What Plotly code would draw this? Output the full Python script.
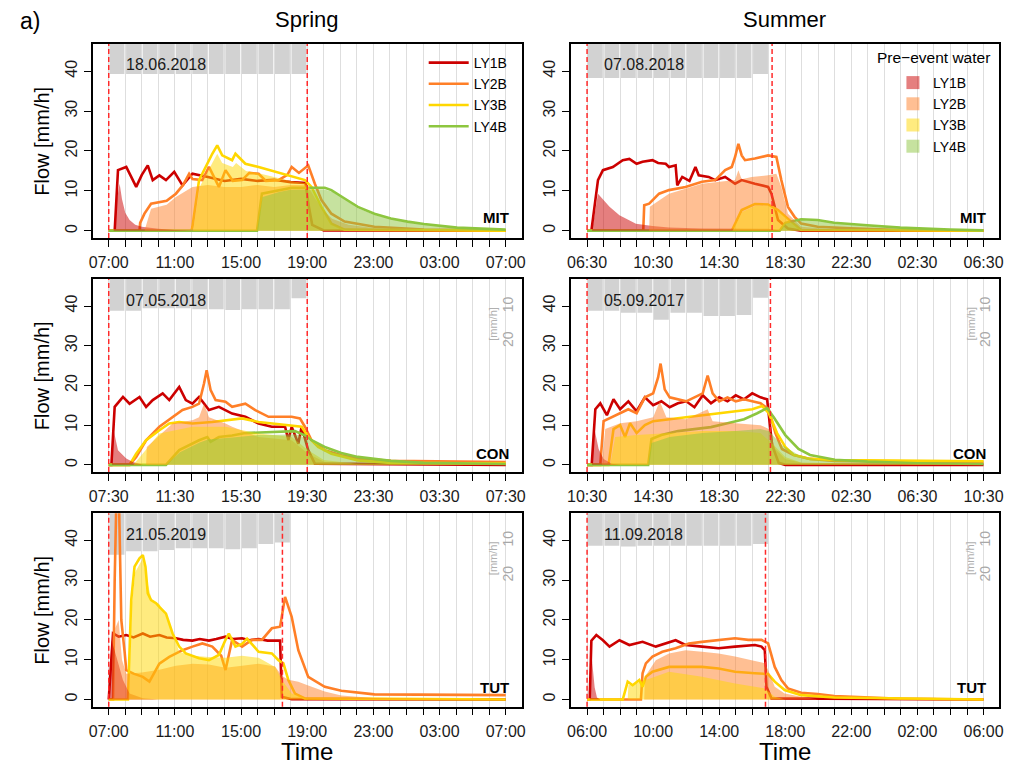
import plotly.graph_objects as go

# ------------------------------------------------------------------
# DATA  (time in hours since event start, flow in mm/h)
# ------------------------------------------------------------------
LAYERS = ["LY1B", "LY2B", "LY3B", "LY4B"]

# x tick labels (every 4 h)
TICKS_MIT_SP = ["07:00", "11:00", "15:00", "19:00", "23:00", "03:00", "07:00"]
TICKS_MIT_SU = ["06:30", "10:30", "14:30", "18:30", "22:30", "02:30", "06:30"]
TICKS_CON_SP = ["07:30", "11:30", "15:30", "19:30", "23:30", "03:30", "07:30"]
TICKS_CON_SU = ["10:30", "14:30", "18:30", "22:30", "02:30", "06:30", "10:30"]
TICKS_TUT_SP = ["07:00", "11:00", "15:00", "19:00", "23:00", "03:00", "07:00"]
TICKS_TUT_SU = ["06:00", "10:00", "14:00", "18:00", "22:00", "02:00", "06:00"]

# hourly sprinkling intensity [mm/h]
MIT_SP_RAIN = [10.7, 10.7, 10.7, 10.7, 10.7, 10.7, 10.7, 10.7, 10.7, 10.7, 10.7, 10.7]
MIT_SU_RAIN = [11.8, 11.8, 11.8, 11.8, 11.8, 11.8, 11.8, 11.8, 11.8, 11.8, 10.7]
CON_SP_RAIN = [11.2, 11.2, 10.5, 10.5, 10.5, 10.8, 10.8, 11.0, 10.8, 10.8, 10.8, 7.6]
CON_SU_RAIN = [11.2, 11.2, 11.8, 11.8, 13.8, 11.8, 11.8, 12.7, 12.7, 12.4, 7.5]
TUT_SP_RAIN = [14.0, 13.0, 13.0, 12.6, 12.1, 12.1, 12.1, 12.4, 12.1, 10.9, 10.5]
TUT_SU_RAIN = [11.4, 11.4, 11.6, 11.4, 11.4, 11.4, 11.4, 11.4, 11.4, 11.4, 10.9]

# event end [h after start]
MIT_SP_END = 12.0
MIT_SU_END = 11.2
CON_SP_END = 12.0
CON_SU_END = 11.1
TUT_SP_END = 10.5
TUT_SU_END = 10.8

# ---------------- MIT spring (18.06.2018) ----------------
MIT_SP_TOT_LY1B = [(0, 0), (0.36, 0), (0.56, 15.2), (1.06, 16.0), (1.36, 13.5), (1.66, 11.0), (2.0, 14.0),
                   (2.36, 16.4), (2.66, 12.7), (3.06, 13.9), (3.46, 12.7), (3.96, 14.8), (4.46, 11.4),
                   (5.06, 14.3), (6.0, 13.5), (7.0, 12.5), (8.0, 13.0), (9.0, 12.5), (10.0, 12.8),
                   (11.0, 12.2), (11.9, 12.0), (12.1, 6.0), (12.3, 1.5), (13.0, 0.1), (24, 0)]
MIT_SP_TOT_LY2B = [(0, 0), (1.86, 0), (1.9, 2.0), (2.16, 4.3), (2.56, 6.8), (3.5, 7.5), (4.06, 9.3), (4.5, 11.5),
                   (4.86, 14.3), (5.06, 13.0), (5.66, 12.7), (6.06, 16.0), (6.66, 11.0), (7.06, 15.2),
                   (7.5, 12.5), (8.06, 12.7), (8.5, 14.5), (9.06, 14.3), (9.5, 12.5), (10.26, 12.7),
                   (10.8, 14.0), (11.06, 16.0), (11.5, 14.5), (12.06, 16.4), (12.46, 11.8), (12.86, 7.7),
                   (13.46, 4.3), (14.26, 2.3), (16.06, 1.0), (19.06, 0.3), (24, 0.1)]
MIT_SP_TOT_LY3B = [(0, 0), (5.0, 0), (5.06, 1.0), (5.46, 12.7), (6.26, 19.3), (6.56, 21.4), (6.86, 18.9),
                   (7.46, 17.7), (7.66, 19.3), (8.26, 16.8), (9.06, 16.0), (10.06, 14.8), (11.06, 13.5),
                   (11.86, 12.7), (12.26, 11.0), (12.86, 6.0), (13.46, 1.8), (14.26, 0.3), (24, 0)]
MIT_SP_TOT_LY4B = [(0, 0), (8.96, 0), (9.26, 9.3), (10.26, 10.2), (11.06, 10.8), (13.06, 10.8), (13.46, 10.2),
                   (14.26, 8.1), (15.06, 6.0), (16.06, 4.3), (17.06, 3.1), (18.06, 2.3), (19.06, 1.7),
                   (21.06, 0.8), (23.86, 0.3), (24, 0.3)]
MIT_SP_PRE_LY1B = [(0.3, 0), (0.5, 8.0), (0.66, 11.8), (0.8, 8.0), (1.0, 4.5), (1.26, 2.7), (1.6, 1.5),
                   (2.0, 1.0), (3.0, 0.5), (4.0, 0.2), (5.0, 0)]
MIT_SP_PRE_LY2B = [(2.16, 0), (2.56, 5.5), (3.5, 6.5), (4.06, 8.5), (5.06, 11.0), (6.0, 11.5), (7.0, 11.0),
                   (8.0, 11.0), (9.0, 11.5), (10.0, 11.0), (11.0, 11.5), (12.0, 11.5), (12.5, 8.0),
                   (13.0, 5.0), (13.5, 3.0), (14.5, 1.5), (16.0, 0.7), (19.0, 0.2), (24, 0)]
MIT_SP_PRE_LY3B = [(5.1, 0), (5.5, 11.0), (6.26, 17.0), (6.56, 19.3), (6.86, 17.0), (7.5, 16.0), (7.7, 17.0),
                   (8.3, 15.0), (9.0, 14.5), (10.0, 13.5), (11.0, 12.5), (11.9, 12.0), (12.3, 10.0),
                   (12.9, 5.5), (13.5, 1.5), (14.3, 0.2), (24, 0)]
MIT_SP_PRE_LY4B = [(8.96, 0), (9.3, 8.5), (10.3, 9.7), (11.0, 10.3), (13.0, 10.4), (13.5, 9.8), (14.3, 7.8),
                   (15.0, 5.8), (16.0, 4.1), (17.0, 3.0), (18.0, 2.1), (19.0, 1.6), (21.0, 0.7), (24, 0.2)]

# ---------------- MIT summer (07.08.2018) ----------------
MIT_SU_TOT_LY1B = [(0, 0), (0.26, 0), (0.66, 12.7), (0.96, 15.2), (1.56, 16.0), (2.16, 17.7), (2.56, 18.0),
                   (3.0, 16.8), (3.36, 17.3), (3.96, 17.7), (4.3, 17.0), (4.76, 16.8), (4.96, 16.0),
                   (5.36, 16.4), (5.46, 11.4), (5.76, 13.5), (6.2, 12.5), (6.56, 16.0), (6.76, 13.9),
                   (7.36, 13.5), (7.76, 12.7), (8.36, 13.5), (8.96, 11.8), (9.36, 12.7), (10.16, 11.8),
                   (10.96, 11.0), (11.16, 9.3), (11.56, 2.7), (12.16, 0.6), (12.96, 0), (24, 0)]
MIT_SU_TOT_LY2B = [(0, 0), (3.4, 0), (3.46, 6.4), (3.76, 6.8), (4.36, 9.3), (4.96, 10.2), (5.96, 11.0),
                   (6.96, 12.3), (7.76, 12.7), (8.36, 15.2), (8.76, 16.0), (8.96, 18.5), (9.16, 21.8),
                   (9.36, 18.9), (9.56, 17.7), (10.16, 18.1), (10.96, 18.9), (11.46, 18.5), (11.76, 12.7),
                   (12.16, 6.0), (12.56, 3.5), (12.96, 1.8), (13.96, 1.0), (15.96, 0.6), (18.96, 0.2), (24, 0.1)]
MIT_SU_TOT_LY3B = [(0, 0), (8.76, 0), (9.36, 5.2), (10.16, 6.7), (10.96, 6.6), (11.56, 5.2), (12.36, 2.3),
                   (12.96, 0.2), (24, 0)]
MIT_SU_TOT_LY4B = [(0, 0), (11.66, 0), (12.0, 2.0), (12.96, 2.9), (13.96, 2.7), (14.96, 2.0), (16.96, 1.4),
                   (18.96, 0.8), (21.96, 0.3), (24, 0.1)]
MIT_SU_PRE_LY1B = [(0.3, 0), (0.66, 9.3), (1.36, 6.0), (1.96, 3.9), (2.96, 1.8), (3.96, 1.2), (4.96, 0.8),
                   (6.96, 0.6), (10.96, 0.5), (11.76, 0)]
MIT_SU_PRE_LY2B = [(3.76, 0), (3.8, 6.0), (4.96, 9.3), (6.96, 11.8), (8.96, 12.7), (9.16, 15.2), (9.36, 12.9),
                   (9.96, 13.5), (10.96, 13.9), (11.46, 14.3), (11.76, 11.0), (12.16, 4.3), (12.96, 1.0),
                   (14.96, 0.3), (24, 0)]
MIT_SU_PRE_LY3B = [(8.8, 0), (9.4, 4.8), (10.2, 6.3), (11.0, 6.3), (11.6, 4.9), (12.4, 2.0), (13.0, 0)]
MIT_SU_PRE_LY4B = [(11.7, 0), (12.0, 1.8), (13.0, 2.7), (14.0, 2.5), (15.0, 1.9), (17.0, 1.3), (19.0, 0.7),
                   (22.0, 0.3), (24, 0.1)]

# ---------------- CON spring (07.05.2018) ----------------
CON_SP_TOT_LY1B = [(0, 0), (0.16, 0), (0.36, 14.6), (0.86, 17.1), (1.26, 15.4), (1.86, 17.1), (2.26, 14.6),
                   (2.66, 16.3), (3.26, 18.0), (3.66, 16.3), (4.26, 19.6), (4.66, 16.3), (5.06, 15.4),
                   (5.46, 17.1), (6.06, 13.8), (6.66, 14.6), (7.46, 12.9), (8.26, 12.1), (9.06, 10.4),
                   (9.86, 9.6), (10.66, 9.6), (10.86, 6.2), (11.06, 9.6), (11.46, 5.3), (11.66, 9.6),
                   (12.06, 3.7), (12.46, 0.3), (24, 0)]
CON_SP_TOT_LY2B = [(0, 0), (1.26, 0), (1.66, 2.0), (2.26, 6.2), (3.06, 9.6), (3.86, 12.1), (4.46, 13.8),
                   (5.06, 14.6), (5.46, 15.4), (5.76, 20.5), (5.92, 23.8), (6.16, 18.8), (6.46, 16.3),
                   (7.06, 15.9), (7.46, 14.6), (8.26, 15.4), (8.86, 13.8), (9.66, 12.1), (11.06, 12.1),
                   (11.56, 11.7), (11.86, 9.6), (12.26, 6.2), (13.06, 3.7), (14.06, 2.4), (15.06, 1.6),
                   (17.06, 1.0), (24, 0.7)]
CON_SP_TOT_LY3B = [(0, 0), (1.26, 0), (1.66, 2.8), (2.26, 6.2), (3.06, 8.7), (3.66, 10.4), (4.26, 10.8),
                   (5.06, 10.4), (6.26, 10.8), (7.06, 11.2), (8.06, 11.7), (9.06, 10.8), (10.06, 10.4),
                   (11.06, 10.0), (11.66, 9.6), (12.06, 7.0), (12.66, 4.5), (13.46, 2.8), (15.06, 1.1),
                   (17.06, 0.5), (24, 0.3)]
CON_SP_TOT_LY4B = [(0, 0), (3.46, 0), (4.26, 3.7), (5.46, 6.2), (5.96, 7.0), (6.16, 5.8), (6.66, 7.0),
                   (7.46, 7.4), (8.26, 8.0), (9.06, 8.1), (10.26, 8.3), (11.26, 8.5), (11.86, 7.4),
                   (12.26, 6.2), (13.06, 4.5), (14.06, 3.0), (15.06, 2.0), (17.06, 1.0), (19.06, 0.5), (24, 0.2)]
CON_SP_PRE_LY1B = [(0.2, 0), (0.26, 9.5), (0.56, 3.7), (1.06, 1.6), (1.46, 0.7), (2.06, 0)]
CON_SP_PRE_LY2B = [(2.26, 0), (2.3, 4.5), (3.86, 10.4), (5.06, 11.2), (5.46, 12.0), (5.76, 15.4), (6.06, 12.0),
                   (7.06, 10.4), (7.46, 9.6), (9.06, 7.0), (11.06, 6.2), (12.06, 2.8), (13.06, 0.7),
                   (15.0, 0.2), (24, 0)]
CON_SP_PRE_LY3B = [(1.5, 0), (3.06, 7.9), (5.06, 9.6), (7.06, 9.6), (9.06, 7.9), (11.06, 7.0), (12.06, 3.7),
                   (13.0, 1.2), (15.0, 0.3), (24, 0)]
CON_SP_PRE_LY4B = [(3.5, 0), (4.3, 3.2), (5.5, 5.6), (6.0, 6.4), (7.5, 6.9), (9.0, 7.5), (10.3, 7.6),
                   (11.3, 7.7), (11.9, 6.8), (12.3, 5.7), (13.0, 4.1), (14.0, 2.7), (15.0, 1.8), (17.0, 0.9),
                   (19.0, 0.4), (24, 0.1)]

# ---------------- CON summer (05.09.2017) ----------------
CON_SU_TOT_LY1B = [(0, 0), (0.28, 0), (0.5, 14.0), (0.8, 15.5), (1.2, 12.5), (1.6, 16.5), (2.0, 14.0),
                   (2.5, 16.0), (3.0, 13.5), (3.5, 17.0), (4.0, 15.0), (4.5, 16.0), (5.0, 14.5), (5.5, 15.5),
                   (6.0, 16.0), (6.5, 14.5), (7.0, 17.5), (7.5, 15.5), (8.0, 17.0), (8.5, 16.0), (9.0, 17.5),
                   (9.5, 16.5), (10.0, 18.0), (10.5, 17.0), (10.9, 16.5), (11.2, 5.0), (11.6, 0.5),
                   (12.0, 0), (24, 0)]
CON_SU_TOT_LY2B = [(0, 0), (0.8, 0), (1.0, 11.0), (1.5, 12.0), (2.0, 13.0), (2.5, 14.0), (3.0, 13.0),
                   (3.5, 17.0), (4.0, 18.0), (4.3, 22.0), (4.45, 25.5), (4.7, 19.0), (5.0, 17.0), (5.5, 16.5),
                   (6.0, 16.0), (6.5, 17.0), (7.0, 18.0), (7.3, 22.5), (7.6, 18.0), (8.0, 16.0), (8.5, 17.0),
                   (9.0, 16.0), (9.5, 16.5), (10.0, 16.0), (10.5, 15.5), (11.0, 14.0), (11.4, 8.0),
                   (11.8, 4.0), (12.5, 2.5), (13.5, 1.5), (15.0, 1.0), (24, 0.6)]
CON_SU_TOT_LY3B = [(0, 0), (1.3, 0), (1.6, 9.0), (2.0, 10.0), (2.3, 7.0), (2.6, 10.5), (3.0, 8.0), (3.5, 10.0),
                   (4.0, 11.0), (5.0, 11.5), (6.0, 12.0), (7.0, 12.5), (8.0, 13.0), (9.0, 13.5), (10.0, 14.0),
                   (10.6, 14.8), (11.0, 13.0), (11.5, 8.0), (12.0, 4.5), (12.5, 2.5), (13.5, 1.5),
                   (15.0, 1.2), (24, 0.9)]
CON_SU_TOT_LY4B = [(0, 0), (3.7, 0), (3.9, 6.5), (4.5, 7.5), (5.5, 8.5), (6.5, 9.0), (7.5, 9.5), (8.5, 10.5),
                   (9.5, 11.5), (10.3, 13.0), (10.9, 14.3), (11.3, 12.0), (12.0, 7.5), (12.8, 4.0),
                   (13.5, 2.5), (15.0, 1.3), (17.0, 0.8), (20.0, 0.4), (24, 0.2)]
CON_SU_PRE_LY1B = [(0.3, 0), (0.45, 9.0), (0.7, 4.0), (1.0, 1.5), (1.5, 0.3), (2.0, 0)]
CON_SU_PRE_LY2B = [(0.9, 0), (1.1, 9.0), (2.0, 10.5), (3.0, 11.0), (4.0, 12.0), (4.4, 16.0), (4.8, 12.0),
                   (6.0, 11.5), (7.3, 14.0), (7.6, 11.0), (9.0, 10.5), (10.5, 10.0), (11.0, 9.0), (11.4, 4.0),
                   (12.0, 1.5), (13.0, 0.5), (24, 0)]
CON_SU_PRE_LY3B = [(1.4, 0), (1.7, 7.0), (3.0, 7.5), (5.0, 8.0), (7.0, 8.5), (9.0, 8.5), (10.5, 8.0),
                   (11.3, 5.0), (12.0, 2.0), (13.0, 0.5), (24, 0)]
CON_SU_PRE_LY4B = [(3.7, 0), (3.9, 5.5), (5.0, 7.0), (7.0, 8.0), (9.0, 8.5), (10.5, 9.0), (11.0, 8.5),
                   (11.8, 5.0), (12.8, 2.5), (14.0, 1.2), (17.0, 0.5), (24, 0.1)]

# ---------------- TUT spring (21.05.2019) ----------------
TUT_SP_TOT_LY1B = [(0, 0), (0.26, 16.6), (0.6, 15.8), (1.06, 16.2), (1.5, 15.6), (2.06, 16.6), (2.5, 15.8),
                   (3.06, 16.2), (3.5, 15.6), (4.06, 15.4), (4.5, 15.0), (5.06, 14.8), (5.5, 15.2),
                   (6.06, 14.8), (6.5, 15.2), (7.06, 15.8), (7.5, 15.2), (8.06, 15.4), (8.5, 14.9),
                   (9.06, 15.2), (9.6, 14.8), (10.36, 14.8), (10.46, 0.7), (11.06, 0.1), (24, 0)]
TUT_SP_TOT_LY2B = [(0, 0), (0.26, 0), (0.36, 30.0), (0.46, 50.0), (0.62, 50.0), (0.76, 20.0), (0.96, 12.0),
                   (1.06, 7.4), (1.5, 6.5), (2.06, 5.7), (2.46, 4.5), (3.06, 9.0), (3.66, 10.7), (4.46, 12.4),
                   (5.06, 13.3), (5.66, 14.1), (6.26, 13.3), (6.8, 11.0), (7.06, 7.4), (7.46, 15.0),
                   (8.06, 13.3), (8.66, 15.0), (9.26, 15.0), (9.86, 17.9), (10.36, 18.3), (10.66, 25.8),
                   (11.06, 20.8), (11.46, 12.4), (12.06, 5.7), (13.06, 3.2), (14.06, 2.2), (16.06, 1.3),
                   (24, 1.1)]
TUT_SP_TOT_LY3B = [(0, 0), (1.16, 0), (1.36, 25.0), (1.56, 33.4), (1.86, 35.5), (2.06, 36.3), (2.22, 33.4),
                   (2.36, 26.7), (2.56, 25.0), (2.86, 24.2), (3.06, 23.3), (3.46, 21.6), (3.86, 16.6),
                   (4.26, 13.3), (4.66, 11.6), (5.46, 10.4), (6.06, 9.9), (6.66, 11.2), (7.06, 15.0),
                   (7.26, 16.6), (7.66, 13.3), (8.06, 14.0), (8.36, 15.3), (8.66, 14.0), (9.06, 12.0),
                   (9.86, 11.6), (10.26, 9.9), (10.56, 9.1), (10.86, 4.9), (11.26, 1.5), (11.86, 0.3), (24, 0)]
TUT_SP_PRE_LY1B = [(0, 0), (0.16, 15.0), (0.46, 10.8), (0.86, 4.9), (1.26, 1.5), (2.06, 0.3), (3.0, 0)]
TUT_SP_PRE_LY2B = [(0.26, 0), (0.4, 18.0), (0.6, 20.0), (0.8, 10.0), (1.06, 6.5), (2.0, 6.8), (3.06, 7.5),
                   (4.06, 8.5), (5.06, 9.0), (6.06, 8.8), (7.06, 8.0), (8.06, 8.5), (9.06, 9.0), (10.06, 8.3),
                   (10.46, 6.0), (10.86, 5.0), (11.46, 4.5), (12.06, 3.5), (13.06, 2.0), (14.06, 1.0),
                   (16.0, 0.4), (24, 0)]
TUT_SP_PRE_LY3B = [(1.2, 0), (1.4, 24.0), (1.6, 32.0), (2.06, 35.5), (2.3, 30.0), (2.6, 25.0), (3.06, 24.0),
                   (3.46, 21.0), (3.86, 17.0), (4.26, 12.0), (5.06, 11.0), (6.06, 10.7), (7.06, 10.5),
                   (8.06, 11.0), (9.06, 10.5), (10.06, 8.2), (10.46, 5.0), (11.06, 1.5), (12.06, 0)]

# ---------------- TUT summer (11.09.2018) ----------------
TUT_SU_TOT_LY1B = [(0, 0), (0.16, 0), (0.26, 14.8), (0.56, 16.2), (0.96, 14.9), (1.36, 13.3), (1.96, 14.9),
                   (2.56, 13.7), (3.36, 14.5), (4.16, 13.3), (5.36, 14.9), (5.96, 13.7), (6.96, 13.3),
                   (7.96, 12.9), (8.96, 13.3), (10.16, 13.7), (10.56, 13.3), (10.76, 12.4), (10.86, 3.2),
                   (11.16, 0.3), (24, 0)]
TUT_SU_TOT_LY2B = [(0, 0), (3.26, 0), (3.36, 6.6), (3.56, 9.1), (3.96, 10.8), (4.56, 12.0), (5.36, 12.9),
                   (6.16, 14.1), (6.96, 14.5), (7.96, 15.0), (8.96, 15.4), (9.76, 15.0), (10.56, 15.0),
                   (10.96, 14.1), (11.36, 8.2), (11.76, 4.9), (12.16, 2.8), (12.96, 1.7), (13.96, 1.4),
                   (14.96, 0.9), (16.96, 0.5), (18.96, 0.2), (24, 0)]
TUT_SU_TOT_LY3B = [(0, 0), (2.16, 0), (2.46, 4.5), (2.76, 3.6), (3.16, 4.9), (3.36, 3.2), (3.56, 5.7),
                   (3.96, 7.0), (4.96, 8.2), (5.96, 8.2), (6.96, 8.2), (7.96, 7.8), (8.96, 7.0), (10.16, 6.6),
                   (10.96, 6.4), (11.36, 4.5), (11.96, 2.4), (12.96, 1.1), (14.96, 0.5), (24, 0)]
TUT_SU_PRE_LY1B = [(0.16, 0), (0.3, 9.9), (0.46, 3.0), (0.6, 0.5), (0.8, 0)]
TUT_SU_PRE_LY2B = [(3.46, 0), (3.5, 5.7), (4.16, 9.9), (4.96, 11.6), (5.96, 12.4), (6.96, 12.0), (7.96, 11.6),
                   (8.96, 10.8), (9.96, 9.9), (10.76, 9.1), (10.96, 7.4), (11.36, 3.2), (11.96, 1.5),
                   (12.96, 0.7), (14.0, 0)]
TUT_SU_PRE_LY3B = [(2.46, 0), (2.5, 3.6), (3.56, 4.9), (4.96, 7.0), (6.96, 5.7), (8.96, 4.0), (10.76, 2.8),
                   (11.36, 0.7), (12.0, 0)]

# ------------------------------------------------------------------
# STYLE / LAYOUT
# ------------------------------------------------------------------
LINE_COLORS = {"LY1B": "#CC0000", "LY2B": "#FF7F27", "LY3B": "#FFD700", "LY4B": "#8DC63F"}
FILL_COLORS = {"LY1B": "rgba(204,0,0,0.5)", "LY2B": "rgba(255,127,39,0.5)",
               "LY3B": "rgba(255,215,0,0.5)", "LY4B": "rgba(141,198,63,0.5)"}

# the page body has an 8px margin: the figure is sized/positioned to compensate
OFF = 8
W, H = 1013 - OFF, 770 - OFF
COL_PX = [(89.5, 521.7), (571.7, 1003.3)]      # page pixel positions of the panels
ROW_PX = [(44.0, 238.0), (279.0, 472.0), (513.3, 706.7)]
FONT = "Liberation Sans, Arial, sans-serif"


def fx(p):
    return (p - OFF) / W


def fy(p):
    return 1 - (p - OFF) / H


PANELS = [
    dict(row=0, col=0, date="18.06.2018", site="MIT", ticks=TICKS_MIT_SP, rain=MIT_SP_RAIN, end=MIT_SP_END,
         tot=[MIT_SP_TOT_LY1B, MIT_SP_TOT_LY2B, MIT_SP_TOT_LY3B, MIT_SP_TOT_LY4B],
         pre=[MIT_SP_PRE_LY1B, MIT_SP_PRE_LY2B, MIT_SP_PRE_LY3B, MIT_SP_PRE_LY4B]),
    dict(row=0, col=1, date="07.08.2018", site="MIT", ticks=TICKS_MIT_SU, rain=MIT_SU_RAIN, end=MIT_SU_END,
         tot=[MIT_SU_TOT_LY1B, MIT_SU_TOT_LY2B, MIT_SU_TOT_LY3B, MIT_SU_TOT_LY4B],
         pre=[MIT_SU_PRE_LY1B, MIT_SU_PRE_LY2B, MIT_SU_PRE_LY3B, MIT_SU_PRE_LY4B]),
    dict(row=1, col=0, date="07.05.2018", site="CON", ticks=TICKS_CON_SP, rain=CON_SP_RAIN, end=CON_SP_END,
         tot=[CON_SP_TOT_LY1B, CON_SP_TOT_LY2B, CON_SP_TOT_LY3B, CON_SP_TOT_LY4B],
         pre=[CON_SP_PRE_LY1B, CON_SP_PRE_LY2B, CON_SP_PRE_LY3B, CON_SP_PRE_LY4B]),
    dict(row=1, col=1, date="05.09.2017", site="CON", ticks=TICKS_CON_SU, rain=CON_SU_RAIN, end=CON_SU_END,
         tot=[CON_SU_TOT_LY1B, CON_SU_TOT_LY2B, CON_SU_TOT_LY3B, CON_SU_TOT_LY4B],
         pre=[CON_SU_PRE_LY1B, CON_SU_PRE_LY2B, CON_SU_PRE_LY3B, CON_SU_PRE_LY4B]),
    dict(row=2, col=0, date="21.05.2019", site="TUT", ticks=TICKS_TUT_SP, rain=TUT_SP_RAIN, end=TUT_SP_END,
         tot=[TUT_SP_TOT_LY1B, TUT_SP_TOT_LY2B, TUT_SP_TOT_LY3B, None],
         pre=[TUT_SP_PRE_LY1B, TUT_SP_PRE_LY2B, TUT_SP_PRE_LY3B, None]),
    dict(row=2, col=1, date="11.09.2018", site="TUT", ticks=TICKS_TUT_SU, rain=TUT_SU_RAIN, end=TUT_SU_END,
         tot=[TUT_SU_TOT_LY1B, TUT_SU_TOT_LY2B, TUT_SU_TOT_LY3B, None],
         pre=[TUT_SU_PRE_LY1B, TUT_SU_PRE_LY2B, TUT_SU_PRE_LY3B, None]),
]

fig = go.Figure()
layout = {}
shapes = []
annotations = []

for k, P in enumerate(PANELS, start=1):
    x0p, x1p = COL_PX[P["col"]]
    y0p, y1p = ROW_PX[P["row"]]
    xd = [fx(x0p), fx(x1p)]
    yd = [fy(y1p), fy(y0p)]
    bi, fi = 2 * k - 1, 2 * k
    xref = "x" if k == 1 else f"x{k}"
    bref = "y" if bi == 1 else f"y{bi}"
    fref = f"y{fi}"
    xkey = "xaxis" if k == 1 else f"xaxis{k}"
    bkey = "yaxis" if bi == 1 else f"yaxis{bi}"
    fkey = f"yaxis{fi}"

    tickvals = list(range(25))
    ticktext = [P["ticks"][i // 4] if i % 4 == 0 else "" for i in tickvals]
    layout[xkey] = dict(domain=xd, range=[-0.96, 24.96], anchor=bref, tickvals=tickvals, ticktext=ticktext,
                        ticks="outside", ticklen=7, tickwidth=1.2, tickcolor="black",
                        showgrid=True, gridcolor="#DEDEDE", gridwidth=1, zeroline=False,
                        showline=True, linecolor="black", linewidth=1.5, mirror=True,
                        tickfont=dict(size=16, color="#1a1a1a"), ticklabelstandoff=2)
    show_prec = P["row"] > 0
    layout[bkey] = dict(domain=yd, range=[57.5, 2.1], anchor=xref, side="right", showgrid=False,
                        zeroline=False, showline=False, ticks="",
                        tickvals=[10, 20] if show_prec else [], showticklabels=show_prec,
                        ticklabelposition="outside", ticklabelstandoff=-24, tickangle=-90,
                        tickfont=dict(size=14, color="#A8A8A8"))
    layout[fkey] = dict(overlaying=bref, anchor=xref, side="left", range=[-1.8, 46.8],
                        tickvals=[0, 10, 20, 30, 40], ticks="outside", ticklen=7, tickwidth=1.2,
                        tickcolor="black", showline=True, linecolor="black", linewidth=1.5, mirror=True,
                        showgrid=False, zeroline=False, tickangle=-90, ticklabelstandoff=1,
                        tickfont=dict(size=16, color="#1a1a1a"))

    # sprinkling bars (hanging from the top)
    rain = P["rain"]
    fig.add_trace(go.Bar(x=[i + 0.5 for i in range(len(rain))], y=rain, width=0.9,
                         marker=dict(color="#D2D2D2", line=dict(width=0)),
                         xaxis=xref, yaxis=bref, showlegend=False, hoverinfo="skip"))

    # total flow lines
    for name, ser in zip(LAYERS, P["tot"]):
        if ser is None:
            continue
        fig.add_trace(go.Scatter(x=[a for a, b in ser], y=[b for a, b in ser], mode="lines",
                                 line=dict(color=LINE_COLORS[name], width=2.6),
                                 xaxis=xref, yaxis=fref, name=name, showlegend=(k == 1),
                                 legend="legend", hoverinfo="skip"))
    # pre-event water (translucent areas)
    for name, ser in zip(LAYERS, P["pre"]):
        if ser is None:
            continue
        fig.add_trace(go.Scatter(x=[a for a, b in ser], y=[b for a, b in ser], mode="none",
                                 fill="tozeroy", fillcolor=FILL_COLORS[name],
                                 xaxis=xref, yaxis=fref, showlegend=False, hoverinfo="skip"))

    # event start / end
    for xv in (0, P["end"]):
        shapes.append(dict(type="line", xref=xref, yref=f"{bref} domain", x0=xv, x1=xv, y0=0, y1=1,
                           line=dict(color="#FF2A2A", width=1.5, dash="5px,3px")))

    annotations.append(dict(text=P["date"], xref=xref, x=0.9, yref="paper", y=fy(y0p + 21),
                            xanchor="left", yanchor="middle", showarrow=False,
                            font=dict(size=16, color="#1a1a1a")))
    annotations.append(dict(text="<b>" + P["site"] + "</b>", xref=xref, x=24.3, yref="paper",
                            y=fy(y0p + 174), xanchor="right", yanchor="middle", showarrow=False,
                            font=dict(size=15, color="black")))
    if show_prec:
        annotations.append(dict(text="[mm/h]", xref="paper", x=fx(x1p - 29), yref=bref, y=15,
                                textangle=-90, showarrow=False, xanchor="center", yanchor="middle",
                                font=dict(size=11, color="#B0B0B0")))
    if P["col"] == 0:
        annotations.append(dict(text="Flow [mm/h]", xref="paper", x=fx(38), yref="paper",
                                y=fy((y0p + y1p) / 2), textangle=-90, showarrow=False,
                                xanchor="center", yanchor="middle",
                                font=dict(size=20, color="black")))

# legend for pre-event water (symbol entries)
for name in LAYERS:
    fig.add_trace(go.Scatter(x=[None], y=[None], mode="markers", name=name,
                             marker=dict(symbol="square", size=13, color=FILL_COLORS[name], line=dict(width=0)),
                             xaxis="x", yaxis="y2", legend="legend2", showlegend=True, hoverinfo="skip"))


def label(text, px, py, size):
    return dict(text=text, xref="paper", yref="paper", x=fx(px), y=fy(py), showarrow=False,
                xanchor="center", yanchor="middle", font=dict(size=size, color="black"))


annotations += [
    label("a)", 26, 21, 23),
    label("Spring", 305, 19, 22),
    label("Summer", 787, 19, 22),
    label("Time", 305, 751, 24),
    label("Time", 787, 751, 24),
    label("Pre\u2212event water", 937, 58, 15.5),
]

fig.update_layout(
    width=W, height=H, margin=dict(l=0, r=0, t=0, b=0),
    paper_bgcolor="white", plot_bgcolor="white",
    font=dict(family=FONT, size=15, color="black"),
    showlegend=True,
    legend=dict(x=fx(423), y=fy(47), xanchor="left", yanchor="top", bgcolor="rgba(0,0,0,0)",
                font=dict(size=14), tracegroupgap=0, itemwidth=40),
    legend2=dict(x=fx(896), y=fy(67), xanchor="left", yanchor="top", bgcolor="rgba(0,0,0,0)",
                 font=dict(size=14), tracegroupgap=0, itemwidth=30),
    shapes=shapes, annotations=annotations, **layout,
)

fig.write_html("out.html")
